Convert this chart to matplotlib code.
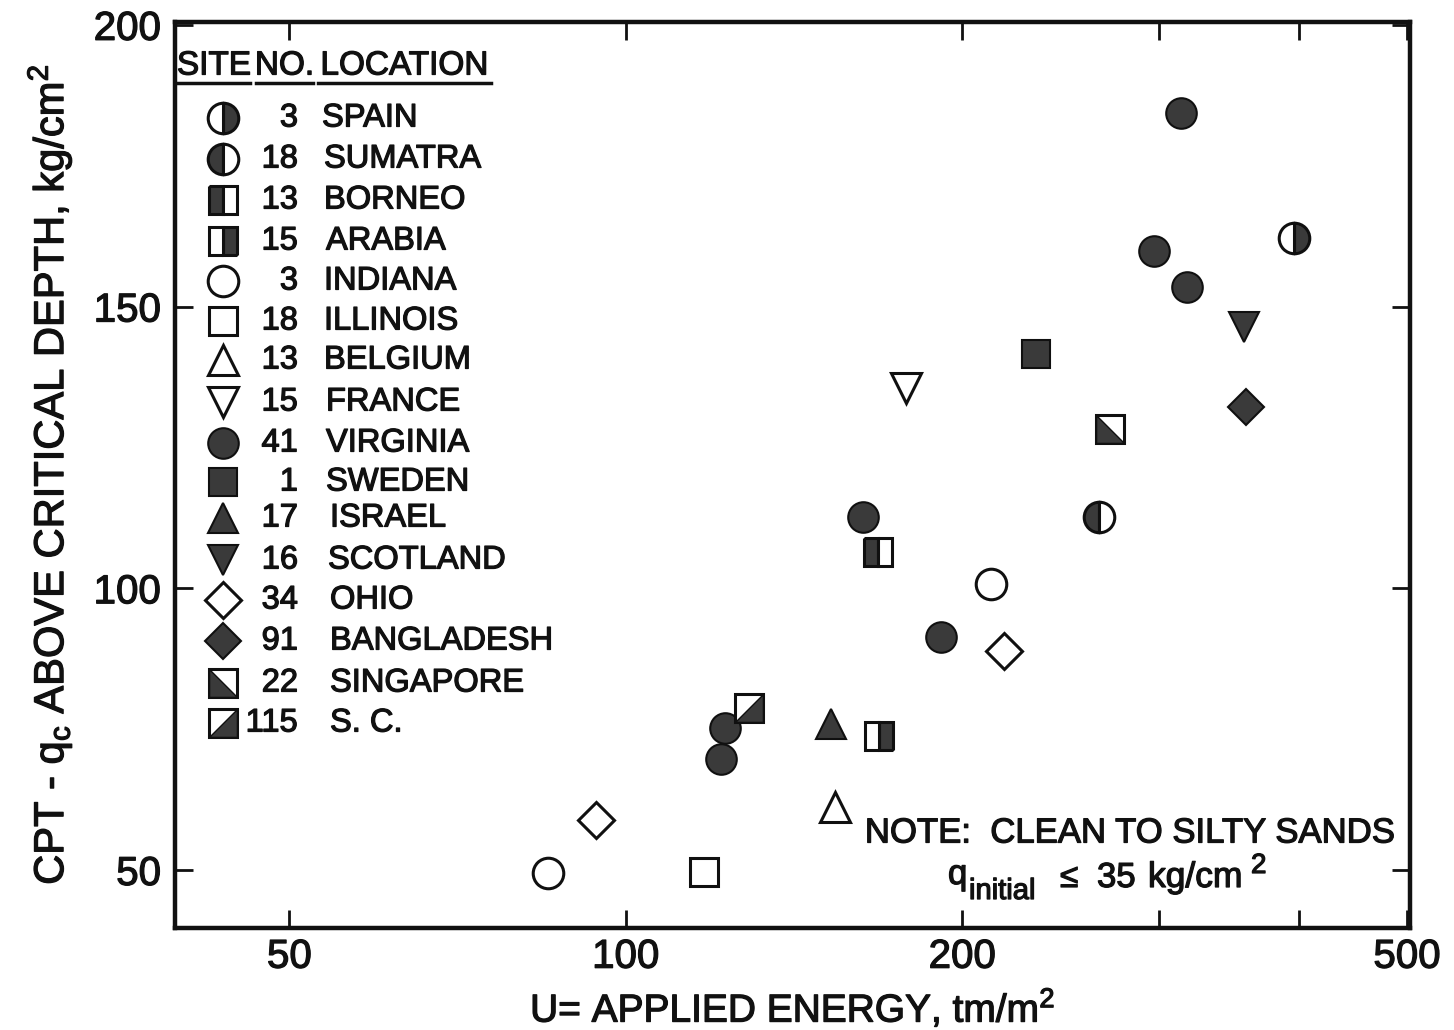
import matplotlib
matplotlib.use("Agg")
import matplotlib.pyplot as plt
from matplotlib import patheffects
from matplotlib.ticker import NullLocator, FixedLocator, FixedFormatter

plt.rcParams['font.family'] = ['Liberation Sans', 'DejaVu Sans']
plt.rcParams['mathtext.default'] = 'regular'

INK = "#111111"
BOLDEN = [patheffects.withStroke(linewidth=0.9, foreground=INK)]

# ---- data -------------------------------------------------------------
site_names = ["SPAIN", "SUMATRA", "BORNEO", "ARABIA", "INDIANA", "ILLINOIS",
              "BELGIUM", "FRANCE", "VIRGINIA", "SWEDEN", "ISRAEL", "SCOTLAND",
              "OHIO", "BANGLADESH", "SINGAPORE", "S. C."]
site_numbers = ["3", "18", "13", "15", "3", "18", "13", "15", "41", "1",
                "17", "16", "34", "91", "22", "115"]

point_site = ["VIRGINIA", "VIRGINIA", "VIRGINIA", "VIRGINIA", "VIRGINIA",
              "VIRGINIA", "VIRGINIA", "SPAIN", "SUMATRA", "BORNEO", "ARABIA",
              "INDIANA", "INDIANA", "ILLINOIS", "BELGIUM", "FRANCE", "SWEDEN",
              "ISRAEL", "SCOTLAND", "OHIO", "OHIO", "BANGLADESH", "SINGAPORE",
              "S. C."]
energy_u = [314, 297, 318, 163, 191.5, 122.7, 121.6, 396, 265, 168, 168.5,
            212, 85.1, 117.5, 154, 178, 233, 152.6, 357, 218, 94, 359, 271, 129]
qc_values = [184.4, 159.9, 153.5, 112.6, 91.3, 75.2, 69.7, 162.2, 112.6,
             106.4, 73.8, 100.7, 49.5, 49.6, 61.2, 135.6, 141.5, 75.9, 146.3,
             88.8, 58.9, 132.1, 128.2, 78.7]

x_ticks = [50, 100, 200, 300, 400, 500]
x_tick_labels = ["50", "100", "200", "", "", "500"]
y_ticks = [50, 100, 150, 200]
y_tick_labels = ["50", "100", "150", "200"]

# ---- marker styles ----------------------------------------------------
DARK = "#3a3a3a"
EDGE = "#101010"
tri_lower_left = [(-1, 1), (-1, -1), (1, -1), (-1, 1)]
tri_lower_right = [(1, 1), (1, -1), (-1, -1), (1, 1)]

styles = {
    "SPAIN":      dict(marker="o", fill="right", ms=22),
    "SUMATRA":    dict(marker="o", fill="left", ms=22),
    "BORNEO":     dict(marker="s", fill="left", ms=20),
    "ARABIA":     dict(marker="s", fill="right", ms=20),
    "INDIANA":    dict(marker="o", fill="none", ms=22),
    "ILLINOIS":   dict(marker="s", fill="none", ms=20),
    "BELGIUM":    dict(marker="^", fill="none", ms=22),
    "FRANCE":     dict(marker="v", fill="none", ms=22),
    "VIRGINIA":   dict(marker="o", fill="full", ms=22),
    "SWEDEN":     dict(marker="s", fill="full", ms=20),
    "ISRAEL":     dict(marker="^", fill="full", ms=22),
    "SCOTLAND":   dict(marker="v", fill="full", ms=22),
    "OHIO":       dict(marker="D", fill="none", ms=18.5),
    "BANGLADESH": dict(marker="D", fill="full", ms=18.5),
    "SINGAPORE":  dict(marker="s", fill="none", ms=20, tri=tri_lower_left),
    "S. C.":      dict(marker="s", fill="none", ms=20, tri=tri_lower_right),
}


def draw_marker(ax, x, y, site, **kw):
    st = styles[site]
    if st["fill"] == "none":
        ax.plot(x, y, linestyle="none", marker=st["marker"], ms=st["ms"],
                mfc="white", mec=EDGE, mew=2.2, **kw)
    elif st["fill"] == "full":
        ax.plot(x, y, linestyle="none", marker=st["marker"], ms=st["ms"],
                mfc=DARK, mec=EDGE, mew=1.5, **kw)
    else:
        ax.plot(x, y, linestyle="none", marker=st["marker"], ms=st["ms"],
                fillstyle=st["fill"], mfc=DARK, mfcalt="white", mec=EDGE,
                mew=2.2, **kw)
    if "tri" in st:
        ax.plot(x, y, linestyle="none", marker=st["tri"], ms=st["ms"],
                mfc=DARK, mec=EDGE, mew=1.0, **kw)


# ---- figure -----------------------------------------------------------
fig = plt.figure(figsize=(14.54, 10.30), dpi=100)
ax = fig.add_axes([175 / 1454, 1 - 928 / 1030, 1235 / 1454, 906 / 1030])

ax.set_xscale("log")
ax.set_xlim(39.5, 503)
ax.set_ylim(39.7, 200.5)

for s, u, q in zip(point_site, energy_u, qc_values):
    draw_marker(ax, [u], [q], s, zorder=3)

ax.xaxis.set_major_locator(FixedLocator(x_ticks))
ax.xaxis.set_major_formatter(FixedFormatter(x_tick_labels))
ax.xaxis.set_minor_locator(NullLocator())
ax.yaxis.set_major_locator(FixedLocator(y_ticks))
ax.yaxis.set_major_formatter(FixedFormatter(y_tick_labels))

ax.tick_params(axis="both", which="major", direction="in", length=13,
               width=2, top=True, right=True, labelsize=29, color=INK,
               labelcolor=INK)
ax.tick_params(axis="x", pad=7)
ax.tick_params(axis="y", pad=10)
for sp in ax.spines.values():
    sp.set_linewidth(3.2)
    sp.set_color(INK)
for lbl in ax.get_xticklabels() + ax.get_yticklabels():
    lbl.set_path_effects(BOLDEN)

ax.set_xlabel(r"U= APPLIED ENERGY, tm/m$^{2}$", fontsize=28, labelpad=8,
              color=INK, path_effects=BOLDEN)
ax.set_ylabel(r"CPT - q$_{c}$ ABOVE CRITICAL DEPTH, kg/cm$^{2}$",
              fontsize=30, labelpad=14, color=INK, path_effects=BOLDEN)


# ---- key --------------------------------------------------------------
def px(xp, yp):
    return (xp - 175) / 1235, (928 - yp) / 906


def label(xp, yp, s, size, **kw):
    kw.setdefault("ha", "left")
    kw.setdefault("va", "center")
    return ax.text(*px(xp, yp), s, transform=ax.transAxes, fontsize=size,
                   color=INK, path_effects=BOLDEN, **kw)


hdr_y = 66
for word, x0, x1 in [("SITE", 178, 250), ("NO.", 256, 313),
                     ("LOCATION", 318, 491)]:
    label((x0 + x1) / 2, hdr_y, word, 24, ha="center")
    ax.plot([px(x0, 0)[0], px(x1, 0)[0]], [px(0, 83)[1]] * 2,
            transform=ax.transAxes, color=INK, lw=2.5, clip_on=False)

row_y = [118, 159, 200, 241, 281, 321, 360, 402, 443, 482, 518, 560, 600,
         641, 683, 723]
name_x = [322, 324, 324, 326, 324, 324, 324, 326, 326, 326, 330, 328, 330,
          330, 330, 330]
for name, num, yp, nx in zip(site_names, site_numbers, row_y, name_x):
    mx, my = px(223, yp)
    draw_marker(ax, [mx], [my], name, transform=ax.transAxes, clip_on=False,
                zorder=4)
    label(298, yp, num, 23.5, ha="right")
    label(nx, yp, name, 23.5)

# ---- note -------------------------------------------------------------
label(1130, 833, "NOTE:  CLEAN TO SILTY SANDS", 25, ha="center")
label(948, 884, "q", 25, va="baseline")
label(969, 899, "initial", 21, va="baseline")
label(1060, 887, "≤", 24, va="baseline")
label(1097, 887, "35", 25, va="baseline")
label(1148, 887, "kg/cm", 25.5, va="baseline")
label(1251, 873, "2", 20, va="baseline")

fig.savefig("out.png", dpi=100, facecolor="white")
